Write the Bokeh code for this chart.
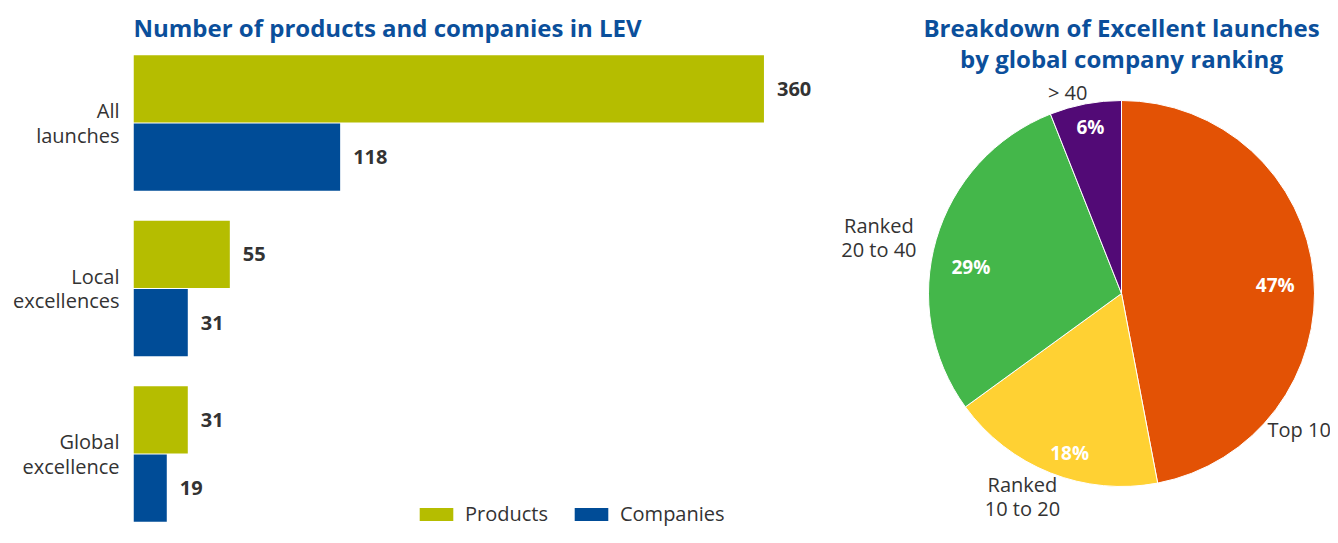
import math
from bokeh.plotting import figure
from bokeh.models import Range1d, FixedTicker, Legend, LegendItem, ColumnDataSource
from bokeh.layouts import row
from bokeh.core.properties import value
from bokeh.embed import file_html
from bokeh.resources import INLINE

# ---------------- data ----------------
categories = ["All launches", "Local excellences", "Global excellence"]
category_ticks = ["All\nlaunches", "Local\nexcellences", "Global\nexcellence"]
products = [360, 55, 31]
companies = [118, 31, 19]
series_names = ["Products", "Companies"]

pie_labels = ["Top 10", "Ranked\n10 to 20", "Ranked\n20 to 40", "> 40"]
pie_values = [47, 18, 29, 6]

left_title = "Number of products and companies in LEV"
right_title = ["Breakdown of Excellent launches", "by global company ranking"]

# ---------------- styles ----------------
FONT = "Open Sans"
BLUE_T = "#0b4f9b"
TXT = "#333333"
C_PROD = "#b5bd00"
C_COMP = "#004c97"
PIE_COLORS = ["#e35205", "#ffd133", "#44b74a", "#520a76"]

BAR_H = 0.406
OFF = 0.206
H = 527

# ---------------- left: bar chart ----------------
p1 = figure(width=830, height=H, output_backend="svg", toolbar_location=None,
            x_range=Range1d(0, 398), y_range=Range1d(2.444, -0.740),
            min_border_left=133, min_border_right=0, min_border_bottom=0, min_border_top=0,
            x_axis_location=None)
p1.outline_line_color = None
p1.xgrid.visible = False
p1.ygrid.visible = False
p1.background_fill_color = "white"

idx = list(range(len(categories)))
src_p = ColumnDataSource(dict(y=[i - OFF for i in idx], v=products, t=[str(v) for v in products]))
src_c = ColumnDataSource(dict(y=[i + OFF for i in idx], v=companies, t=[str(v) for v in companies]))

r_p = p1.hbar(y="y", left=0, right="v", height=BAR_H, source=src_p, color=C_PROD, line_color=None)
r_c = p1.hbar(y="y", left=0, right="v", height=BAR_H, source=src_c, color=C_COMP, line_color=None)

for src in (src_p, src_c):
    p1.text(x="v", y="y", text="t", source=src, x_offset=13, text_baseline="middle",
            text_align="left", text_font=value(FONT), text_font_size="20px",
            text_font_style="bold", text_color=TXT)

# chart title (drawn at the top of the frame)
p1.text(x=[0], y=[-0.577], text=[left_title], text_align="left", text_baseline="middle",
        text_font=value(FONT), text_font_size="24px", text_font_style="bold", text_color=BLUE_T)

yax = p1.yaxis[0]
yax.ticker = FixedTicker(ticks=idx)
yax.major_label_overrides = {i: category_ticks[i] for i in idx}
yax.axis_line_color = None
yax.major_tick_line_color = None
yax.minor_tick_line_color = None
yax.major_label_standoff = 8
yax.major_label_text_font = FONT
yax.major_label_text_font_size = "20px"
yax.major_label_text_color = TXT
yax.major_label_text_align = "right"
yax.major_label_text_line_height = 0.9

legend = Legend(items=[LegendItem(label=series_names[0], renderers=[r_p]),
                       LegendItem(label=series_names[1], renderers=[r_c])],
                orientation="horizontal", location=(282, 0),
                glyph_width=42, glyph_height=16, label_standoff=8, spacing=22,
                padding=0, margin=0, border_line_color=None, background_fill_alpha=0,
                label_text_font=FONT, label_text_font_size="20px", label_text_color=TXT)
p1.add_layout(legend)

# ---------------- right: pie chart ----------------
R = 193
p2 = figure(width=500, height=H, output_backend="svg", toolbar_location=None,
            x_range=Range1d(-291, 209), y_range=Range1d(-234, 293),
            min_border=0, x_axis_location=None, y_axis_location=None)
p2.outline_line_color = None
p2.xgrid.visible = False
p2.ygrid.visible = False

total = sum(pie_values)
starts, ends = [], []
cum = 0.0
for v in pie_values:
    a0 = math.pi / 2 - 2 * math.pi * cum / total
    cum += v
    a1 = math.pi / 2 - 2 * math.pi * cum / total
    starts.append(a0)
    ends.append(a1)

src_pie = ColumnDataSource(dict(s=starts, e=ends, c=PIE_COLORS))
p2.wedge(x=0, y=0, radius=R, start_angle="s", end_angle="e", direction="clock",
         fill_color="c", line_color="white", line_width=1, source=src_pie)

# label placement (style)
pct_ang = [3, -108, 170, 100.6]
pct_r = [154, 168, 153, 169]
out_ang = [-37.5, -116, 167, 105]
out_r = [224, 226, 249, 208]

pct_src = ColumnDataSource(dict(
    x=[r * math.cos(math.radians(a)) for a, r in zip(pct_ang, pct_r)],
    y=[r * math.sin(math.radians(a)) for a, r in zip(pct_ang, pct_r)],
    t=[f"{v}%" for v in pie_values]))
p2.text(x="x", y="y", text="t", source=pct_src, text_align="center", text_baseline="middle",
        text_font=value(FONT), text_font_size="19px", text_font_style="bold", text_color="white")

out_src = ColumnDataSource(dict(
    x=[r * math.cos(math.radians(a)) for a, r in zip(out_ang, out_r)],
    y=[r * math.sin(math.radians(a)) for a, r in zip(out_ang, out_r)],
    t=pie_labels))
p2.text(x="x", y="y", text="t", source=out_src, text_align="center", text_baseline="middle",
        text_line_height=0.9,
        text_font=value(FONT), text_font_size="20px", text_color=TXT)

title_src = ColumnDataSource(dict(x=[0, 0], y=[266, 235], t=right_title))
p2.text(x="x", y="y", text="t", source=title_src, text_align="center", text_baseline="middle",
        text_font=value(FONT), text_font_size="24px", text_font_style="bold", text_color=BLUE_T)

layout = row(p1, p2, spacing=0)
open("out.html", "w").write(file_html(layout, INLINE))
